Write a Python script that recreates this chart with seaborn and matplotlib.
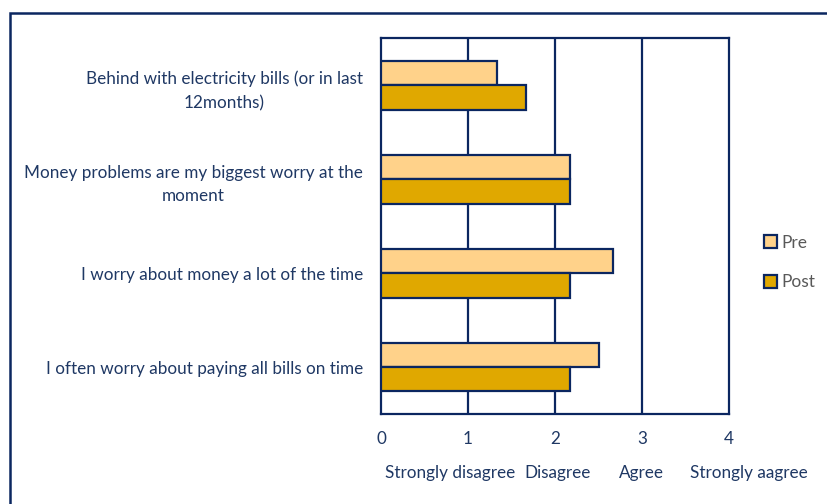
import matplotlib
matplotlib.use("Agg")
import matplotlib.pyplot as plt
from matplotlib.patches import Rectangle, Patch
import pandas as pd
import seaborn as sns

statements = [
    "Behind with electricity bills (or in last\n12months)",
    "Money problems are my biggest worry at the\nmoment",
    "I worry about money a lot of the time",
    "I often worry about paying all bills on time",
]
pre = [1.33, 2.17, 2.67, 2.5]
post = [1.67, 2.17, 2.17, 2.17]
periods = ["Pre", "Post"]
x_ticks = [0, 1, 2, 3, 4]
scale_labels = ["Strongly disagree", "Disagree", "Agree", "Strongly aagree"]
scale_positions = [0.80, 2.03, 2.99, 4.23]

NAVY = "#0b2660"
TEXT = "#1f3864"
PRE_COLOR = "#ffd28a"
POST_COLOR = "#e0a800"
FS = 12.3

df = pd.DataFrame({
    "statement": statements * 2,
    "score": pre + post,
    "period": [periods[0]] * len(pre) + [periods[1]] * len(post),
})

sns.set_theme(style="white")
plt.rcParams["font.family"] = ["Lato", "DejaVu Sans"]

fig = plt.figure(figsize=(8.27, 5.04), dpi=100)
ax = fig.add_axes([381 / 827, 1 - 414 / 504, (729 - 381) / 827, (414 - 38.3) / 504])

sns.barplot(
    data=df, y="statement", x="score", hue="period", order=statements,
    hue_order=periods, palette=[PRE_COLOR, POST_COLOR], saturation=1, width=0.52,
    edgecolor=NAVY, linewidth=1.6, orient="h", ax=ax, legend=False, zorder=3,
)

# Score axis 0-4 with navy frame and vertical gridlines
ax.set_xlim(0, 4)
ax.set_ylim(len(statements) - 0.5, -0.5)
ax.set_xticks(x_ticks)
ax.set_xticklabels([str(t) for t in x_ticks])
for v in x_ticks[1:-1]:
    ax.axvline(v, color=NAVY, lw=1.6, zorder=1)
for s in ax.spines.values():
    s.set_color(NAVY)
    s.set_linewidth(1.6)
    s.set_visible(True)
ax.set_xlabel("")
ax.set_ylabel("")
ax.tick_params(axis="both", length=0, labelsize=FS, colors=TEXT)
ax.tick_params(axis="y", pad=13)
ax.tick_params(axis="x", pad=12)
for lab in ax.get_yticklabels():
    lab.set_multialignment("center")
    lab.set_linespacing(1.6)

# Agreement scale captions under the numeric ticks
for pos, txt in zip(scale_positions, scale_labels):
    ax.text(pos / 4, -0.157, txt, transform=ax.transAxes, ha="center",
            va="center", fontsize=FS, color=TEXT)

handles = [Patch(facecolor=c, edgecolor=NAVY, linewidth=1.6) for c in (PRE_COLOR, POST_COLOR)]
fig.legend(handles, periods, loc="center left", bbox_to_anchor=(748 / 827, 1 - 262.5 / 504),
           frameon=False, fontsize=12.5, labelcolor="#595959", handlelength=0.75,
           handleheight=0.75, handletextpad=0.3, labelspacing=1.35)

# Outer chart border
fig.patches.append(Rectangle((9.5 / 827, -0.1), 1.2, 1 - 13 / 504 + 0.1, transform=fig.transFigure,
                             fill=False, edgecolor=NAVY, linewidth=1.8))

fig.savefig("out.png", dpi=100)
